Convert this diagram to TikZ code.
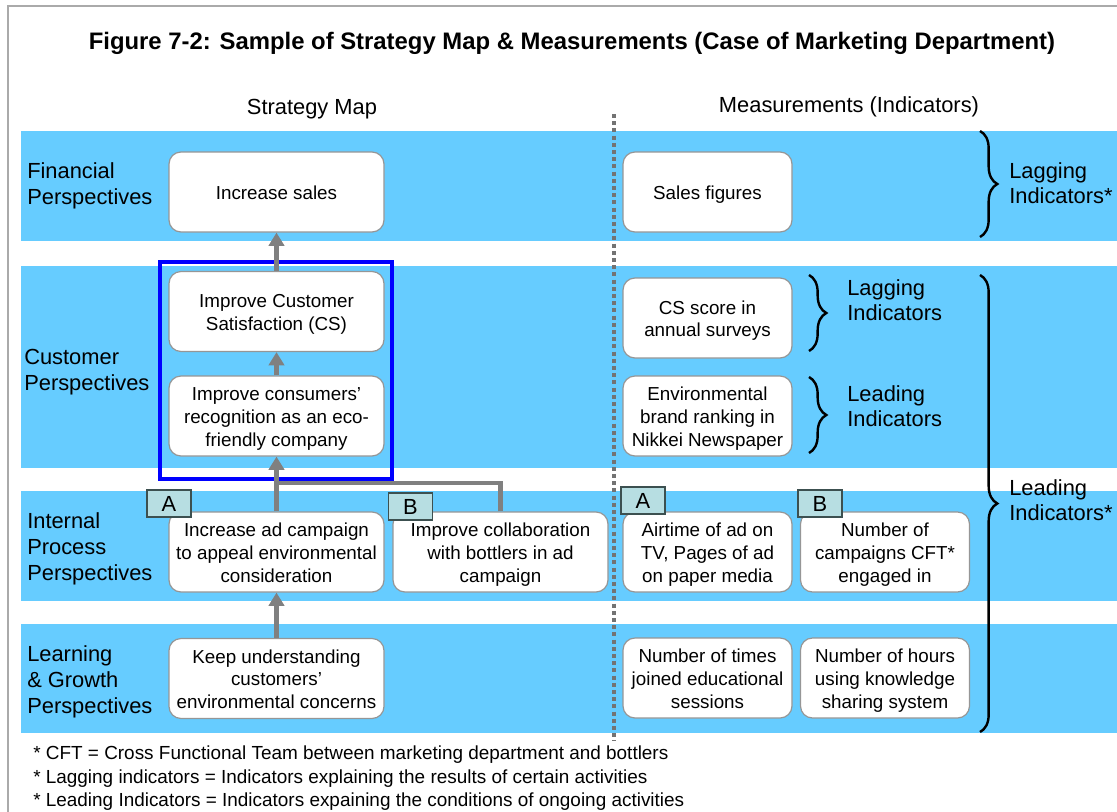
\documentclass[tikz,border=0pt]{standalone}
\usepackage{fontspec}
\setmainfont{Liberation Sans}
\usetikzlibrary{arrows.meta,decorations.pathreplacing}
\definecolor{band}{RGB}{102,204,255}
\definecolor{tagfill}{RGB}{183,222,226}
\definecolor{tagline}{RGB}{60,80,80}
\definecolor{boxline}{RGB}{150,150,150}
\definecolor{arrgray}{RGB}{128,128,128}
\definecolor{framegray}{RGB}{170,170,170}
\newcommand{\bt}[1]{\raisebox{-5.7pt}[0pt][0pt]{\begin{tabular}{@{}c@{}}#1\end{tabular}}}
\begin{document}
\begin{tikzpicture}[x=0.75pt,y=-0.75pt,
  bandbox/.style={fill=band,draw=none},
  lbox/.style={draw=boxline,line width=0.9pt,fill=white,rounded corners=9pt,
    minimum width=161.25pt,minimum height=60pt,inner sep=1pt,
    font=\fontsize{14.1}{17}\selectfont},
  rbox/.style={lbox,minimum width=126.75pt},
  tag/.style={draw=tagline,line width=0.8pt,fill=tagfill,minimum width=33pt,
    minimum height=20.25pt,inner sep=0pt,font=\fontsize{16.4}{19}\selectfont},
  persp/.style={anchor=west,align=left,inner sep=0pt,font=\fontsize{16.4}{19.5}\selectfont},
  indlabel/.style={anchor=west,align=left,inner sep=0pt,font=\fontsize{16.4}{19}\selectfont},
  arr/.style={draw=arrgray,line width=3.4pt,-{Triangle[width=11.5pt,length=10pt]}},
  joinline/.style={draw=arrgray,line width=3.4pt},
  bracebig/.style={draw=black,line width=1.8pt,decorate,decoration={brace,amplitude=13pt}},
  note/.style={anchor=west,inner sep=0pt,font=\fontsize{14.2}{17}\selectfont}
]
\useasboundingbox (0,0) rectangle (1117,811);
% frame
\draw[framegray,line width=1.1pt] (8,812) -- (8,6) -- (1118,6);
% title and headings
\node[font=\bfseries\fontsize{17.9}{20}\selectfont] (title) at (572,43) {Figure 7-2: Sample of Strategy Map \& Measurements (Case of Marketing Department)};
\node[font=\fontsize{16.4}{19}\selectfont] (hmap) at (312,109) {Strategy Map};
\node[font=\fontsize{16.4}{19}\selectfont] (hmeas) at (849,107) {Measurements (Indicators)};
% bands
\fill[bandbox] (21,131) rectangle (1118,241);
\fill[bandbox] (21,266) rectangle (1118,468);
\fill[bandbox] (21,491) rectangle (1118,601);
\fill[bandbox] (21,624) rectangle (1118,733);
% dotted separator
\draw[arrgray!110,line width=3pt,dash pattern=on 3pt off 2.4pt] (614,114) -- (614,741);
% perspective labels
\node[persp] (pfin) at (27,186) {Financial\\Perspectives};
\node[persp] (pcus) at (24,372) {Customer\\Perspectives};
\node[persp] (pint) at (27,549) {Internal\\Process\\Perspectives};
\node[persp] (plg) at (27,682) {Learning\\\& Growth\\Perspectives};
% blue frame
\draw[blue,line width=3pt] (160,262) rectangle (392,479);
% strategy map boxes
\node[lbox] (sales) at (276.5,192) {\bt{Increase sales}};
\node[lbox] (cs) at (276.5,311.5) {\bt{Improve Customer\\Satisfaction (CS)}};
\node[lbox] (cons) at (276.5,416) {\bt{Improve consumers'\\recognition as an eco-\\friendly company}};
\node[lbox] (ad) at (276.5,552) {\bt{Increase ad campaign\\to appeal environmental\\consideration}};
\node[lbox] (collab) at (500.5,552) {\bt{Improve collaboration\\with bottlers in ad\\campaign}};
\node[lbox] (keep) at (276.5,678.5) {\bt{Keep understanding\\customers'\\environmental concerns}};
% measurement boxes
\node[rbox] (msales) at (707.5,192) {\bt{Sales figures}};
\node[rbox] (mcs) at (707.5,318) {\bt{CS score in\\annual surveys}};
\node[rbox] (menv) at (707.5,416) {\bt{Environmental\\brand ranking in\\Nikkei Newspaper}};
\node[rbox] (mair) at (707.5,552) {\bt{Airtime of ad on\\TV, Pages of ad\\on paper media}};
\node[rbox] (mcft) at (885,552) {\bt{Number of\\campaigns CFT*\\engaged in}};
\node[rbox] (mtimes) at (707.5,678) {\bt{Number of times\\joined educational\\sessions}};
\node[rbox] (mhours) at (885,678) {\bt{Number of hours\\using knowledge\\sharing system}};
% tags
\node[tag] (tagA) at (169,503.5) {A};
\node[tag] (tagB) at (410.5,506.5) {B};
\node[tag] (tagmA) at (643,500.5) {A};
\node[tag] (tagmB) at (820,503.5) {B};
% connectors
\coordinate (join) at (276.5,483);
\draw[joinline] (collab.north) |- (join);
\draw[arr] (cs.north) -- (sales.south);
\draw[arr] (cons.north) -- (cs.south);
\draw[arr] (ad.north) -- (cons.south);
\draw[arr] (keep.north) -- (ad.south);
% braces
\coordinate (b1t) at (980,131); \coordinate (b1b) at (980,237);
\draw[bracebig] (b1t) -- (b1b);
\coordinate (b2t) at (980,275); \coordinate (b2b) at (980,732);
\draw[bracebig] (b2t) -- (b2b);
\coordinate (b3t) at (809,275); \coordinate (b3b) at (809,351);
\draw[bracebig] (b3t) -- (b3b);
\coordinate (b4t) at (809,377); \coordinate (b4b) at (809,453);
\draw[bracebig] (b4t) -- (b4b);
\node[indlabel] (lag1) at (1009,183) {Lagging\\Indicators*};
\node[indlabel] (lead1) at (1009,500) {Leading\\Indicators*};
\node[indlabel] (lag2) at (847,300.5) {Lagging\\Indicators};
\node[indlabel] (lead2) at (847,406) {Leading\\Indicators};
% footnotes
\node[note] (n1) at (33,755) {* CFT = Cross Functional Team between marketing department and bottlers};
\node[note] (n2) at (33,778.5) {* Lagging indicators = Indicators explaining the results of certain activities};
\node[note] (n3) at (33,802) {* Leading Indicators = Indicators expaining the conditions of ongoing activities};
\end{tikzpicture}
\end{document}
